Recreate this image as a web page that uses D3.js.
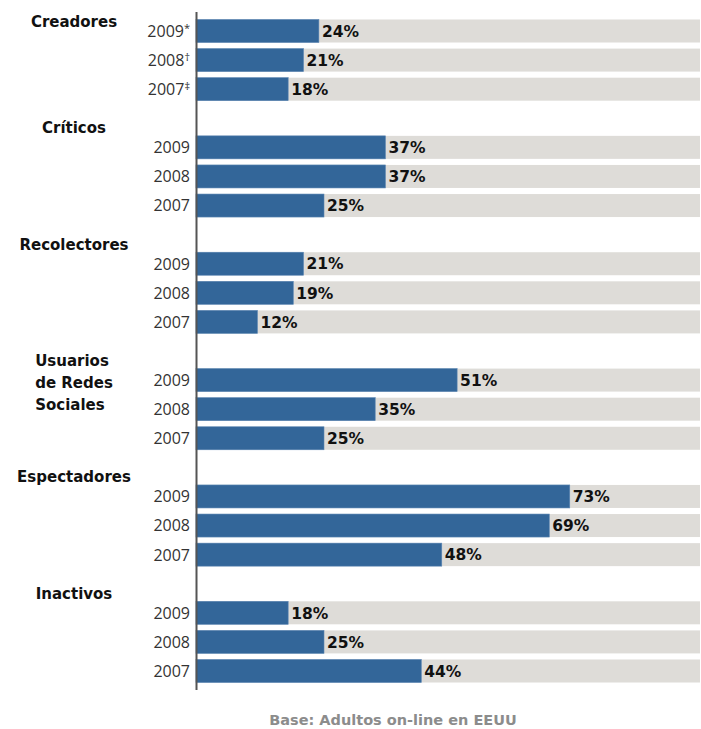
<!DOCTYPE html>
<html>
<head>
<meta charset="utf-8">
<script src="https://cdn.jsdelivr.net/npm/d3@7"></script>
<style>
  body { margin: 0; background: #fff; }
</style>
</head>
<body>
<script>
// groups, years and values
var groups = ["Creadores", "Críticos", "Recolectores", "Usuarios de Redes Sociales", "Espectadores", "Inactivos"];
var groupLines = [["Creadores"], ["Críticos"], ["Recolectores"], ["Usuarios", "de Redes", "Sociales"], ["Espectadores"], ["Inactivos"]];
var years = ["2009", "2008", "2007"];
var firstGroupMarks = ["*", "†", "‡"];
var values = [
    [24, 21, 18],
    [37, 37, 25],
    [21, 19, 12],
    [51, 35, 25],
    [73, 69, 48],
    [18, 25, 44]
];
var footnote = "Base: Adultos on-line en EEUU";

var width = 701, height = 729;
var svg = d3.select("body").append("svg")
    .attr("width", width)
    .attr("height", height);

// flatten to rows, each group takes 4 slots (3 bars + one gap)
var rows = [];
groups.forEach(function (g, gi) {
    years.forEach(function (y, yi) {
        rows.push({ group: gi, year: y, mark: gi == 0 ? firstGroupMarks[yi] : "", value: values[gi][yi], slot: gi * 4 + yi });
    });
});

var x = d3.scaleLinear().domain([0, 100]).range([196, 708]);
var slot = d3.scaleLinear().domain([0, 22]).range([31, 671]);
var barH = 23;

// gray background tracks
svg.selectAll("rect.track").data(rows).enter().append("rect")
    .attr("class", "track")
    .attr("x", x(0))
    .attr("y", function (d) { return slot(d.slot) - barH / 2; })
    .attr("width", 700 - x(0))
    .attr("height", barH)
    .attr("fill", "#dedcd8");

// blue bars
svg.selectAll("rect.bar").data(rows).enter().append("rect")
    .attr("class", "bar")
    .attr("x", x(0))
    .attr("y", function (d) { return slot(d.slot) - barH / 2; })
    .attr("width", function (d) { return x(d.value) - x(0); })
    .attr("height", barH)
    .attr("fill", "#336699")
    .attr("stroke", "#5b86b3")
    .attr("stroke-width", 0.6);

// value labels
svg.selectAll("text.val").data(rows).enter().append("text")
    .attr("class", "val")
    .attr("x", function (d) { return x(d.value) + 3; })
    .attr("y", function (d) { return slot(d.slot); })
    .attr("dy", "0.37em")
    .attr("font-family", "DejaVu Sans, Verdana, sans-serif")
    .attr("font-weight", "bold")
    .attr("font-size", "15.5px")
    .attr("fill", "#111")
    .text(function (d) { return d.value + "%"; });

// year labels
var yl = svg.selectAll("text.year").data(rows).enter().append("text")
    .attr("class", "year")
    .attr("x", 190)
    .attr("y", function (d) { return slot(d.slot); })
    .attr("dy", "0.37em")
    .attr("text-anchor", "end")
    .attr("font-family", "Open Sans, sans-serif")
    .attr("font-size", "16px")
    .attr("fill", "#333");
yl.append("tspan").text(function (d) { return d.year; });
yl.append("tspan")
    .attr("font-size", "11px")
    .attr("dy", "-0.45em")
    .text(function (d) { return d.mark; });

// group labels (multi-line one is left aligned as a block)
var gl = svg.selectAll("text.group").data(groupLines).enter().append("text")
    .attr("class", "group")
    .attr("y", function (d, i) {
        var y = slot(i * 4) - 14;
        if (i == 0) y = 27;
        return y;
    })
    .attr("font-family", "DejaVu Sans, Verdana, sans-serif")
    .attr("font-weight", "bold")
    .attr("font-size", "15px")
    .attr("fill", "#111");
gl.selectAll("tspan").data(function (d) { return d; }).enter().append("tspan")
    .attr("dy", function (d, i) { return i == 0 ? 0 : 22; })
    .text(function (d) { return d; });
gl.each(function () {
    var spans = d3.select(this).selectAll("tspan");
    var w = 0;
    spans.each(function () { w = Math.max(w, this.getComputedTextLength()); });
    spans.attr("x", 74 - w / 2);
});

// vertical axis line
svg.append("line")
    .attr("x1", 196.5).attr("x2", 196.5)
    .attr("y1", 12).attr("y2", 690)
    .attr("stroke", "#555")
    .attr("stroke-width", 2);

// footnote
svg.append("text")
    .attr("x", 393)
    .attr("y", 725)
    .attr("text-anchor", "middle")
    .attr("font-family", "DejaVu Sans, Verdana, sans-serif")
    .attr("font-weight", "bold")
    .attr("font-size", "14.5px")
    .attr("fill", "#8c8c8c")
    .text(footnote);
</script>
</body>
</html>
